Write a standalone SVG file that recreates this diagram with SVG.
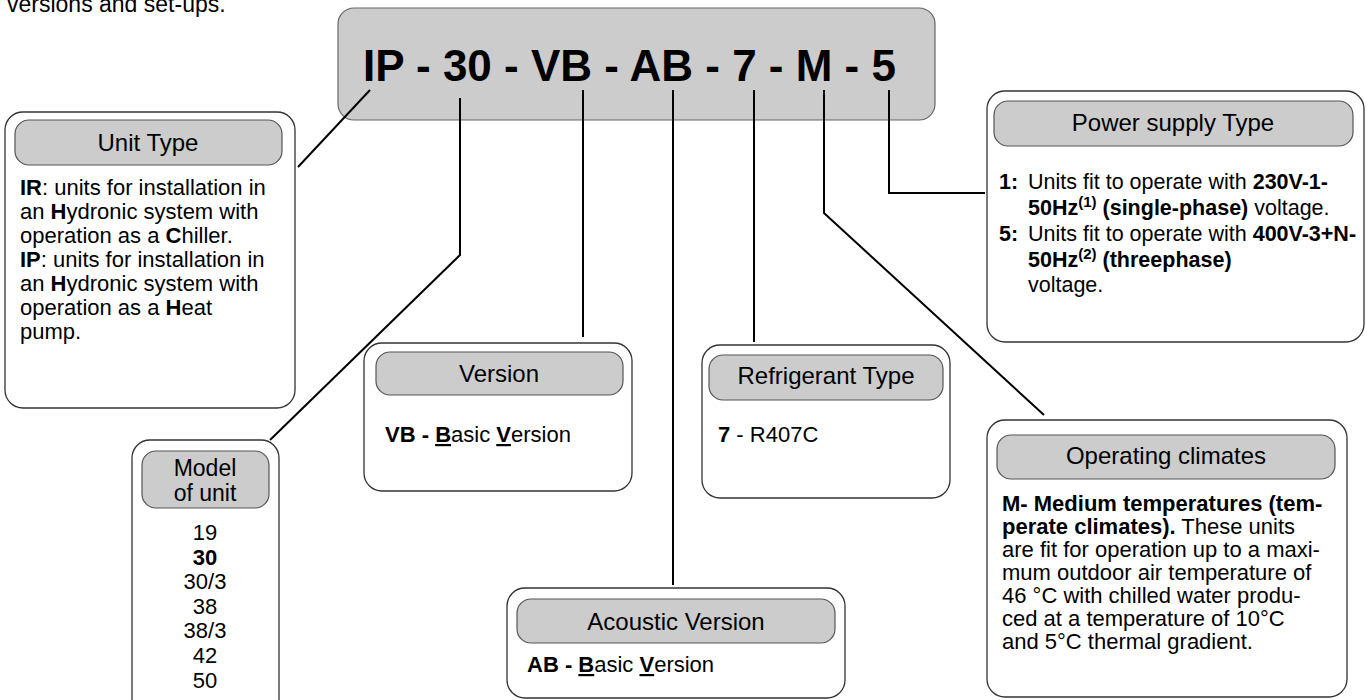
<svg xmlns="http://www.w3.org/2000/svg" width="1372" height="700" viewBox="0 0 1372 700">
<style>
text{font-family:"Liberation Sans",Arial,sans-serif;fill:#000}
.outer{fill:#fff;stroke:#333;stroke-width:1.3}
.head{fill:#cccccc;stroke:#555;stroke-width:1.2}
.ht{font-size:24px;text-anchor:middle}
.bt{font-size:22px}
.pt{font-size:21.5px}
.b{font-weight:bold}
.u{text-decoration:underline}
.con{fill:none;stroke:#000;stroke-width:2}
</style>
<rect width="1372" height="700" fill="#fff"/>
<text x="7" y="12" style="font-size:23px">versions and set-ups.</text>

<g id="code">
<rect x="338" y="8" width="597" height="112" rx="16" fill="#cccccc" stroke="#666" stroke-width="1.2"/>
<text x="363" y="81" style="font-size:44px;font-weight:bold">IP - 30 - VB - AB - 7 - M - 5</text>
</g>

<g id="connectors">
<path class="con" d="M370,90 L298,167"/>
<path class="con" d="M460,98 L460,255 L270,440"/>
<path class="con" d="M583,90 L583,337"/>
<path class="con" d="M673,90 L673,585"/>
<path class="con" d="M754,90 L754,342"/>
<path class="con" d="M824,90 L824,213 L1044,415"/>
<path class="con" d="M889,90 L889,193 L985,193"/>
</g>

<g id="unit-type">
<rect class="outer" x="5" y="112" width="290" height="296" rx="18"/>
<rect class="head" x="15" y="120" width="267" height="45" rx="14"/>
<text class="ht" x="148" y="151">Unit Type</text>
<text class="bt" x="20" y="195"><tspan class="b">IR</tspan>: units for installation in</text>
<text class="bt" x="20" y="219">an <tspan class="b">H</tspan>ydronic system with</text>
<text class="bt" x="20" y="243">operation as a <tspan class="b">C</tspan>hiller.</text>
<text class="bt" x="20" y="267"><tspan class="b">IP</tspan>: units for installation in</text>
<text class="bt" x="20" y="291">an <tspan class="b">H</tspan>ydronic system with</text>
<text class="bt" x="20" y="315">operation as a <tspan class="b">H</tspan>eat</text>
<text class="bt" x="20" y="339">pump.</text>
</g>

<g id="model">
<rect class="outer" x="132" y="440" width="147" height="280" rx="18"/>
<rect class="head" x="142" y="451" width="127" height="57" rx="14"/>
<text class="ht" style="font-size:23px" x="205" y="476">Model</text>
<text class="ht" style="font-size:23px" x="205" y="501">of unit</text>
<g class="bt" text-anchor="middle">
<text x="205" y="540">19</text>
<text x="205" y="565" class="b">30</text>
<text x="205" y="589">30/3</text>
<text x="205" y="614">38</text>
<text x="205" y="638">38/3</text>
<text x="205" y="663">42</text>
<text x="205" y="688">50</text>
</g>
</g>

<g id="version">
<rect class="outer" x="364" y="343" width="268" height="148" rx="18"/>
<rect class="head" x="376" y="352" width="247" height="43" rx="14"/>
<text class="ht" x="499" y="382">Version</text>
<text class="bt" x="385" y="442"><tspan class="b">VB - </tspan><tspan class="b u">B</tspan>asic <tspan class="b u">V</tspan>ersion</text>
</g>

<g id="refrigerant">
<rect class="outer" x="702" y="345" width="248" height="153" rx="18"/>
<rect class="head" x="709" y="355" width="234" height="45" rx="14"/>
<text class="ht" x="826" y="384">Refrigerant Type</text>
<text class="bt" x="718" y="442"><tspan class="b">7</tspan> - R407C</text>
</g>

<g id="acoustic">
<rect class="outer" x="507" y="588" width="338" height="110" rx="18"/>
<rect class="head" x="517" y="599" width="318" height="44" rx="14"/>
<text class="ht" x="676" y="630">Acoustic Version</text>
<text class="bt" x="527" y="672"><tspan class="b">AB - </tspan><tspan class="b u">B</tspan>asic <tspan class="b u">V</tspan>ersion</text>
</g>

<g id="power">
<rect class="outer" x="987" y="91" width="377" height="251" rx="18"/>
<rect class="head" x="994" y="101" width="359" height="45" rx="14"/>
<text class="ht" x="1173" y="131">Power supply Type</text>
<text class="pt" x="999" y="189"><tspan class="b">1:</tspan><tspan x="1028">Units fit to operate with </tspan><tspan class="b">230V-1-</tspan></text>
<text class="pt" x="1028" y="215"><tspan class="b">50Hz</tspan><tspan class="b" style="font-size:15px" dy="-8">(1)</tspan><tspan class="b" dy="8"> (single-phase)</tspan> voltage.</text>
<text class="pt" x="999" y="241"><tspan class="b">5:</tspan><tspan x="1028">Units fit to operate with </tspan><tspan class="b">400V-3+N-</tspan></text>
<text class="pt" x="1028" y="267"><tspan class="b">50Hz</tspan><tspan class="b" style="font-size:15px" dy="-8">(2)</tspan><tspan class="b" dy="8"> (threephase)</tspan></text>
<text class="pt" x="1028" y="292">voltage.</text>
</g>

<g id="climates">
<rect class="outer" x="987" y="420" width="360" height="277" rx="18"/>
<rect class="head" x="997" y="435" width="338" height="44" rx="14"/>
<text class="ht" x="1166" y="464">Operating climates</text>
<text class="bt" x="1002" y="511"><tspan class="b">M- Medium temperatures (tem-</tspan></text>
<text class="bt" x="1002" y="534"><tspan class="b">perate climates).</tspan> These units</text>
<text class="bt" x="1002" y="557">are fit for operation up to a maxi-</text>
<text class="bt" x="1002" y="580">mum outdoor air temperature of</text>
<text class="bt" x="1002" y="603">46 °C with chilled water produ-</text>
<text class="bt" x="1002" y="626">ced at a temperature of 10°C</text>
<text class="bt" x="1002" y="649">and 5°C thermal gradient.</text>
</g>
</svg>
